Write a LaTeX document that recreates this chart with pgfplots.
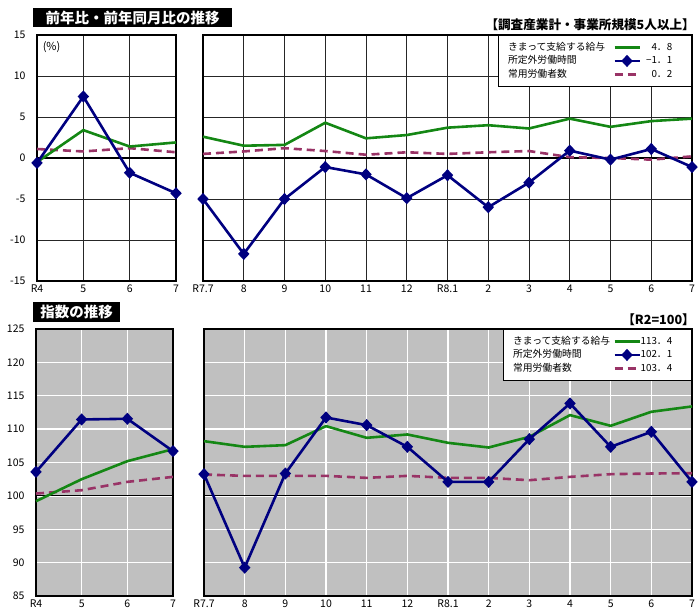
\documentclass[border=0pt]{standalone}
\usepackage{fontspec}
\setmainfont{Noto Sans CJK JP}
\usepackage{pgfplots}
\usepackage{pgfplotstable}
\pgfplotsset{compat=1.18}

\definecolor{cgreen}{RGB}{20,135,20}
\definecolor{cnavy}{RGB}{0,0,128}
\definecolor{cplum}{RGB}{153,51,102}
\definecolor{cbg}{RGB}{192,192,192}

% annual (left) and monthly (right) panels
\pgfplotstableread{
x green blue plum
0 -0.5 -0.6 1.1
1 3.4 7.5 0.8
2 1.4 -1.8 1.2
3 1.9 -4.3 0.7
}\ratioyear
\pgfplotstableread{
x green blue plum
0 2.6 -5.0 0.5
1 1.5 -11.7 0.8
2 1.6 -5.0 1.2
3 4.3 -1.1 0.85
4 2.4 -2.0 0.4
5 2.8 -4.9 0.7
6 3.7 -2.1 0.5
7 4.0 -6.0 0.7
8 3.6 -3.0 0.85
9 4.8 0.9 0.1
10 3.8 -0.2 0.0
11 4.5 1.1 -0.2
12 4.8 -1.1 0.2
}\ratiomonth
\pgfplotstableread{
x green blue plum
0 99.2 103.6 100.35
1 102.5 111.45 100.85
2 105.2 111.55 102.1
3 107.0 106.7 102.85
}\indexyear
\pgfplotstableread{
x green blue plum
0 108.2 103.25 103.2
1 107.35 89.25 103.0
2 107.6 103.35 103.0
3 110.45 111.75 103.0
4 108.7 110.6 102.7
5 109.2 107.35 103.0
6 107.95 102.1 102.7
7 107.25 102.1 102.7
8 108.85 108.5 102.35
9 112.1 113.85 102.85
10 110.5 107.35 103.25
11 112.6 109.6 103.35
12 113.4 102.1 103.4
}\indexmonth

\pgfplotsset{
  panel/.style={
    scale only axis, clip=false, anchor=south west,
    axis line style={black, line width=1.3pt},
    grid=major, tick style={draw=none},
    enlargelimits=false, xmin=0,
    ticklabel style={font=\fontsize{10.5}{12}\selectfont},
    /pgf/number format/assume math mode=true,
    yticklabel style={xshift=-8pt},
  },
  toppanel/.style={panel, ymin=-15, ymax=15, ytick={-15,-10,...,15},
    grid style={black!85, line width=0.6pt},
    extra y ticks={0}, extra y tick labels={},
    extra y tick style={grid style={black, line width=1.3pt}}},
  botpanel/.style={panel, ymin=85, ymax=125, ytick={85,90,...,125},
    axis background/.style={fill=cbg},
    grid style={white, line width=1.3pt},
    extra y ticks={100}, extra y tick labels={},
    extra y tick style={grid style={black, line width=1.1pt}}},
  yearx/.style={xmax=3, xtick={0,...,3}, xticklabels={R4,5,6,7}},
  monthx/.style={xmax=12, xtick={0,...,12},
    xticklabels={R7.7,8,9,10,11,12,R8.1,2,3,4,5,6,7}, yticklabels={}},
  gline/.style={cgreen, line width=2.6pt, no markers},
  bline/.style={cnavy, line width=2.6pt, mark=diamond*, mark size=4.2pt,
    mark options={solid, xscale=1.25}},
  pline/.style={cplum, line width=2.6pt, dash pattern=on 8pt off 5pt, no markers},
  lgimg/.style={legend image code/.code={
    \draw[mark repeat=2,mark phase=2,##1] plot coordinates {(0pt,0pt) (12.5pt,0pt) (25pt,0pt)};
    \node[anchor=east, text=black, draw=none, fill=none, inner sep=0pt] at (59pt,0pt) {#1};
    \path[draw=none, fill=none] (0pt,0pt) (69pt,0pt);}},
  lgbox/.style={legend plot pos=right, legend cell align=left,
    legend style={at={(1,1)}, anchor=north east, draw=black, line width=1pt,
      fill=white, inner xsep=8pt, inner ysep=5.5pt, row sep=0pt, column sep=#1,
      font=\fontsize{9.8}{11}\selectfont, cells={anchor=west},
      nodes={inner ysep=1.15pt, text height=8.5pt, text depth=2.5pt}}},
}

\begin{document}
\begin{tikzpicture}
\useasboundingbox (0pt,0pt) rectangle (700pt,-611pt);

% titles
\node[fill=black, text=white, anchor=north west, minimum width=199pt, minimum height=19pt,
  inner sep=0pt, font=\bfseries\fontsize{14.5}{16}\selectfont] at (33pt,-8pt) {前年比・前年同月比の推移};
\node[fill=black, text=white, anchor=north west, minimum width=87pt, minimum height=20pt,
  inner sep=0pt, font=\bfseries\fontsize{14.5}{16}\selectfont] at (33pt,-302pt) {指数の推移};
\node[anchor=east, inner sep=0pt, font=\bfseries\fontsize{12.6}{14}\selectfont] at (695pt,-25pt) {【調査産業計・事業所規模5人以上】};
\node[anchor=east, inner sep=0pt, font=\bfseries\fontsize{12.6}{14}\selectfont] at (695pt,-320pt) {【R2=100】};

% year on year, annual
\begin{axis}[toppanel, yearx, at={(37pt,-281pt)}, width=139pt, height=246pt]
\addplot[pline] table[x=x, y=plum] {\ratioyear};
\addplot[gline] table[x=x, y=green] {\ratioyear};
\addplot[bline] table[x=x, y=blue] {\ratioyear};
\node[anchor=west, inner sep=0pt, font=\fontsize{11}{12}\selectfont] at (rel axis cs:0.04,0.951) {(\%)};
\end{axis}

% year on year, monthly
\begin{axis}[toppanel, monthx, lgbox=6pt, at={(203pt,-281pt)}, width=489pt, height=246pt]
\addplot[pline, forget plot] table[x=x, y=plum] {\ratiomonth};
\addplot[gline, forget plot] table[x=x, y=green] {\ratiomonth};
\addplot[bline, forget plot] table[x=x, y=blue] {\ratiomonth};
\addlegendimage{gline, lgimg={4．8}}
\addlegendentry{きまって支給する給与}
\addlegendimage{bline, lgimg={−1．1}}
\addlegendentry{所定外労働時間}
\addlegendimage{pline, lgimg={0．2}}
\addlegendentry{常用労働者数}
\end{axis}

% index, annual
\begin{axis}[botpanel, yearx, at={(36pt,-596pt)}, width=137pt, height=267pt]
\addplot[pline] table[x=x, y=plum] {\indexyear};
\addplot[gline] table[x=x, y=green] {\indexyear};
\addplot[bline] table[x=x, y=blue] {\indexyear};
\end{axis}

% index, monthly
\begin{axis}[botpanel, monthx, lgbox=1pt, at={(204pt,-596pt)}, width=488pt, height=267pt]
\addplot[pline, forget plot] table[x=x, y=plum] {\indexmonth};
\addplot[gline, forget plot] table[x=x, y=green] {\indexmonth};
\addplot[bline, forget plot] table[x=x, y=blue] {\indexmonth};
\addlegendimage{gline, lgimg={113．4}}
\addlegendentry{きまって支給する給与}
\addlegendimage{bline, lgimg={102．1}}
\addlegendentry{所定外労働時間}
\addlegendimage{pline, lgimg={103．4}}
\addlegendentry{常用労働者数}
\end{axis}
\end{tikzpicture}
\end{document}
